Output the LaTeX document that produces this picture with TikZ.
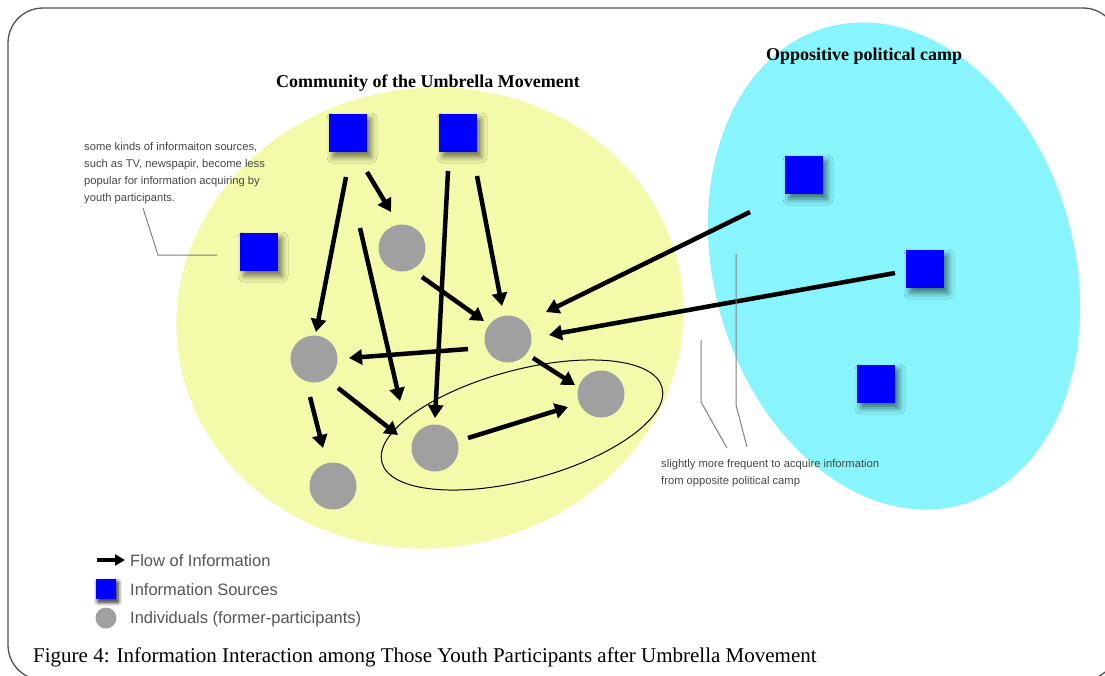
\documentclass[tikz,border=0pt]{standalone}
\usepackage{fontspec}
\setmainfont{Liberation Serif}
\setsansfont{Liberation Sans}
\usetikzlibrary{arrows.meta,calc,shadows.blur}

\definecolor{community}{RGB}{243,250,170}
\definecolor{camp}{RGB}{136,244,252}
\definecolor{source}{RGB}{0,0,255}
\definecolor{person}{RGB}{160,160,160}
\definecolor{note}{RGB}{70,70,70}
\definecolor{legendgray}{RGB}{85,85,85}
\definecolor{framegray}{RGB}{80,80,80}

\tikzset{
  src/.style={rectangle, fill=source, minimum size=38pt, inner sep=0pt,
    blur shadow={shadow xshift=4pt, shadow yshift=-5pt, shadow blur radius=6pt, shadow opacity=55}},
  ind/.style={circle, fill=person, minimum size=47pt, inner sep=0pt},
  flow/.style={line width=4.5pt, -{Triangle[length=13pt,width=15pt]}},
  callout/.style={draw=gray, line width=1pt},
  notetext/.style={font=\sffamily\fontsize{11.2}{17}\selectfont, text=note, align=left, inner sep=0pt},
  title/.style={font=\bfseries\fontsize{18}{20}\selectfont, inner sep=0pt},
  legendtext/.style={font=\sffamily\fontsize{16.5}{18}\selectfont, text=legendgray, inner sep=0pt, anchor=west},
  caption/.style={font=\fontsize{21}{24}\selectfont, inner sep=0pt, anchor=base west},
  framebox/.style={draw=framegray, line width=1.3pt, rounded corners=35pt}
}

\begin{document}
\begin{tikzpicture}[x=1pt,y=-1pt]
\useasboundingbox (0,0) rectangle (1105,675);

% outer frame, partly running past the page edge
\begin{scope}
  \clip (0,0) rectangle (1105,675);
  \draw[framebox] (8,8) rectangle (1118,680);
\end{scope}

% the two communities
\fill[community, rotate around={8:(430,318)}] (430,318) ellipse [x radius=254pt, y radius=230pt];
\fill[camp, rotate around={16:(894,266)}] (894,266) ellipse [x radius=180pt, y radius=248pt];

\node[title] (commtitle) at (428,83) {Community of the Umbrella Movement};
\node[title] (camptitle) at (864,56) {Oppositive political camp};

% group of closely linked participants
\draw[line width=1pt, rotate around={15:(522,425)}] (522,425) ellipse [x radius=145pt, y radius=55pt];

% information sources
\node[src] (S1) at (348,133) {};
\node[src] (S2) at (458,133) {};
\node[src] (S3) at (259,252) {};
\node[src] (S4) at (804,175) {};
\node[src] (S5) at (925,269) {};
\node[src] (S6) at (876,384) {};

% individuals
\node[ind] (C1) at (402,248) {};
\node[ind] (C2) at (508,339) {};
\node[ind] (C3) at (314,359) {};
\node[ind] (C4) at (601,394) {};
\node[ind] (C5) at (435,448) {};
\node[ind] (C6) at (333,486) {};

% flows of information
\draw[flow] ($(S1)+(-2,44)$) -- ($(C3)+(2,-27)$);
\draw[flow] ($(S1)+(19,39)$) -- ($(C1)+(-11,-36)$);
\draw[flow] ($(S1)+(12,95)$) -- ($(C5)+(-35,-47)$);
\draw[flow] ($(S2)+(-10,38)$) -- ($(C5)+(0,-30)$);
\draw[flow] ($(S2)+(19,43)$) -- ($(C2)+(-6,-33)$);
\draw[flow] ($(C1)+(20,29)$) -- ($(C2)+(-24,-18)$);
\draw[flow] ($(C2)+(-40,10)$) -- ($(C3)+(35,-1)$);
\draw[flow] ($(S4)+(-54,37)$) -- ($(C2)+(38,-27)$);
\draw[flow] ($(S5)+(-30,4)$) -- ($(C2)+(41,-4)$);
\draw[flow] ($(C2)+(25,19)$) -- ($(C4)+(-26,-9)$);
\draw[flow] ($(C3)+(24,29)$) -- ($(C5)+(-37,-13)$);
\draw[flow] ($(C3)+(-4,38)$) -- ($(C6)+(-10,-38)$);
\draw[flow] ($(C5)+(33,-10)$) -- ($(C4)+(-33,13)$);

% annotations with leader lines
\node[notetext, anchor=north west] (srcnote) at (84,142)
  {some kinds of informaiton sources,\\ such as TV, newspapir, become less\\ popular for information acquiring by\\ youth participants.};
\coordinate (srclead) at (143,208);
\coordinate (srcbend) at (158,255);
\coordinate (srcend) at (217,255);
\draw[callout] (srclead) -- (srcbend) -- (srcend);

\node[notetext, anchor=north west] (campnote) at (661,459)
  {slightly more frequent to acquire information\\ from opposite political camp};
\coordinate (leadAtop) at (701,340);
\coordinate (leadAbend) at (701,402);
\coordinate (leadAend) at (727,448);
\coordinate (leadBtop) at (736,254);
\coordinate (leadBbend) at (736,405);
\coordinate (leadBend) at (747,447);
\draw[callout] (leadAtop) -- (leadAbend) -- (leadAend);
\draw[callout] (leadBtop) -- (leadBbend) -- (leadBend);

% legend
\coordinate (legA) at (97,560);
\coordinate (legB) at (125,560);
\draw[line width=4pt, -{Triangle[length=10pt,width=11pt]}] (legA) -- (legB);
\node[legendtext] (legflow) at (130,561) {Flow of Information};
\node[src, minimum size=20pt, blur shadow={shadow xshift=2pt, shadow yshift=-3pt, shadow blur radius=4pt}] (legsrc) at (106,589) {};
\node[legendtext] (legsrctext) at (130,590) {Information Sources};
\node[ind, minimum size=21pt] (legind) at (106,618) {};
\node[legendtext] (legindtext) at (130,619) {Individuals (former-participants)};

% caption
\node[caption] (caption) at (33,662) {Figure 4: Information Interaction among Those Youth Participants after Umbrella Movement};
\end{tikzpicture}
\end{document}
